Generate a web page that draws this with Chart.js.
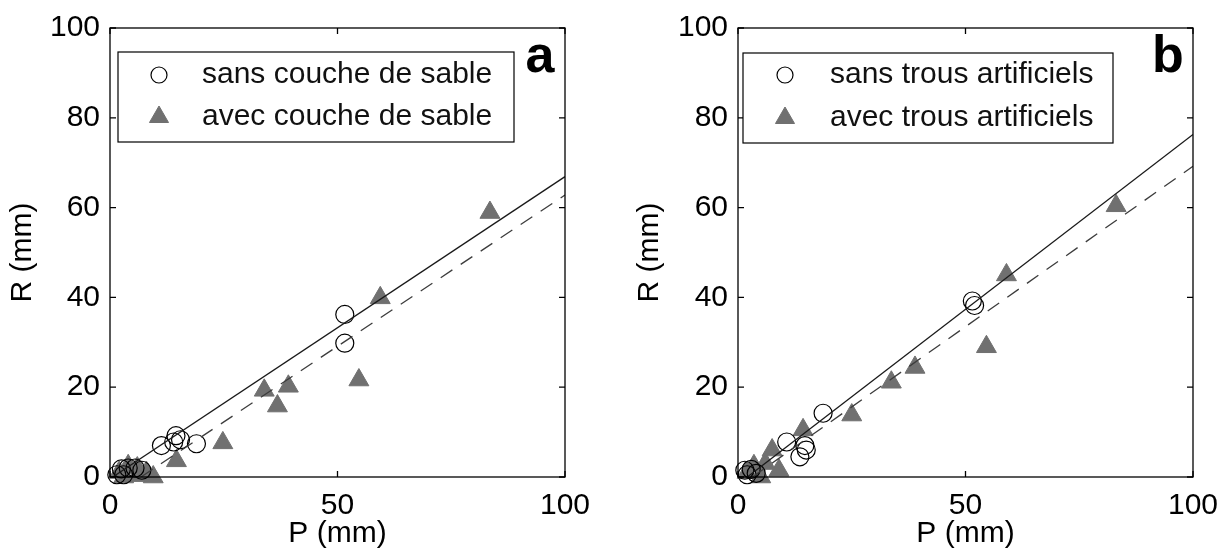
<!DOCTYPE html>
<html>
<head>
<meta charset="utf-8">
<script src="https://cdn.jsdelivr.net/npm/chart.js@4.4.1/dist/chart.umd.min.js"></script>
<style>
body{margin:0;background:#fff;}
.panel{position:absolute;top:0;}
</style>
</head>
<body>
<div class="panel" style="left:0"><canvas id="chartA" width="615" height="557"></canvas></div>
<div class="panel" style="left:615px"><canvas id="chartB" width="616" height="557"></canvas></div>
<script>
var xTicks=[0,50,100];
var yTicks=[0,20,40,60,80,100];
var xTitle="P (mm)";
var yTitle="R (mm)";

// panel a : sand layer
var labelsA=["sans couche de sable","avec couche de sable"];
var sansA=[{x:1.5,y:0.5},{x:2.5,y:1.8},{x:3,y:0.5},{x:4,y:2},{x:5.5,y:2},{x:7,y:1.5},
  {x:11.3,y:7},{x:14.5,y:9.2},{x:14,y:7.8},{x:15.5,y:8.3},{x:19,y:7.4},
  {x:51.6,y:36.2},{x:51.6,y:29.8}];
var avecA=[{x:2,y:1},{x:3,y:0},{x:4,y:2.5},{x:6,y:2},{x:6,y:0.3},{x:8,y:1},{x:9.5,y:0},
  {x:14.6,y:3.6},{x:24.8,y:7.6},{x:33.9,y:19.3},{x:39.2,y:20.2},{x:36.8,y:15.8},
  {x:54.7,y:21.6},{x:59.4,y:39.9},{x:83.5,y:58.9}];
var fitA=[{x:0.6,y:0},{x:100,y:66.9}];
var fitDashA=[{x:6.8,y:0},{x:100,y:62.8}];

// panel b : artificial holes
var labelsB=["sans trous artificiels","avec trous artificiels"];
var sansB=[{x:1.5,y:1.5},{x:2.9,y:1.7},{x:4,y:0.8},{x:2,y:0.5},
  {x:10.7,y:7.8},{x:14.7,y:7},{x:13.6,y:4.5},{x:15,y:6},{x:18.7,y:14.2},
  {x:51.5,y:39.2},{x:52,y:38.2}];
var avecB=[{x:2,y:1},{x:3.5,y:2.5},{x:5,y:0},{x:6,y:3},{x:7.5,y:6},{x:9,y:1.5},
  {x:14.3,y:10.5},{x:25,y:13.8},{x:33.7,y:21.1},{x:38.9,y:24.4},{x:54.6,y:29},
  {x:59,y:45},{x:83.1,y:60.4}];
var fitB=[{x:2.05,y:0},{x:100,y:76.3}];
var fitDashB=[{x:3.15,y:0},{x:100,y:69.2}];

var FONT='"Liberation Sans", Arial, Helvetica, sans-serif';

// frame with inward ticks, boxed legend and panel letter
var decor={
  id:'decor',
  afterDraw:function(chart,args,opts){
    var ctx=chart.ctx, a=chart.chartArea, xs=chart.scales.x, ys=chart.scales.y;
    ctx.save();
    ctx.strokeStyle='#000';
    ctx.lineWidth=1.3;
    ctx.strokeRect(a.left,a.top,a.right-a.left,a.bottom-a.top);
    ctx.beginPath();
    xs.ticks.forEach(function(t){
      var px=xs.getPixelForValue(t.value);
      ctx.moveTo(px,a.bottom);ctx.lineTo(px,a.bottom-6);
      ctx.moveTo(px,a.top);ctx.lineTo(px,a.top+6);
    });
    ys.ticks.forEach(function(t){
      var py=ys.getPixelForValue(t.value);
      ctx.moveTo(a.left,py);ctx.lineTo(a.left+6,py);
      ctx.moveTo(a.right,py);ctx.lineTo(a.right-6,py);
    });
    ctx.stroke();

    var b=opts.box;
    ctx.fillStyle='#fff';
    ctx.fillRect(b.left,b.top,b.width,b.height);
    ctx.lineWidth=1.2;
    ctx.strokeRect(b.left,b.top,b.width,b.height);
    var items=chart.data.datasets.filter(function(d){return d.label;});
    items.forEach(function(d,i){
      var y=b.top+opts.rowTop+i*opts.rowGap;
      ctx.fillStyle=d.backgroundColor;
      ctx.strokeStyle=d.borderColor;
      ctx.lineWidth=d.borderWidth;
      Chart.helpers.drawPoint(ctx,{pointStyle:d.pointStyle,radius:opts.markerSize[i],borderWidth:d.borderWidth,rotation:0},b.left+opts.markerX,y);
      ctx.fillStyle='#111';
      ctx.font='30px '+FONT;
      ctx.textAlign='left';
      ctx.textBaseline='middle';
      ctx.fillText(d.label,b.left+opts.textX,y);
    });

    ctx.fillStyle='#000';
    ctx.font='bold 52px '+FONT;
    ctx.textAlign='center';
    ctx.textBaseline='alphabetic';
    ctx.fillText(opts.letter,opts.letterX,opts.letterY);
    ctx.restore();
  }
};

function makeChart(id,labels,sans,avec,fit,fitDash,pad,yWidth,decorOpts){
  var ctx=document.getElementById(id);
  return new Chart(ctx,{
    type:'scatter',
    data:{
      datasets:[
        {data:fit,showLine:true,pointRadius:0,borderColor:'#1a1a1a',borderWidth:1.3,fill:false},
        {data:fitDash,showLine:true,pointRadius:0,borderColor:'#3c3c3c',borderWidth:1.3,borderDash:[14,10],fill:false},
        {label:labels[0],data:sans,pointStyle:'circle',pointRadius:9,borderWidth:1.2,clip:false,
          borderColor:'#000',backgroundColor:'rgba(0,0,0,0)'},
        {label:labels[1],data:avec,pointStyle:'triangle',pointRadius:11.5,borderWidth:1,clip:false,
          borderColor:'#707070',backgroundColor:'#707070'}
      ]
    },
    options:{
      responsive:false,
      animation:false,
      devicePixelRatio:1,
      events:[],
      layout:{padding:pad},
      plugins:{legend:{display:false},tooltip:{enabled:false},decor:decorOpts},
      scales:{
        x:{
          type:'linear',min:0,max:100,
          afterBuildTicks:function(s){s.ticks=xTicks.map(function(v){return {value:v};});},
          afterFit:function(s){s.height=80;},
          grid:{display:false,drawTicks:false},
          border:{display:false},
          ticks:{color:'#000',padding:11,font:{family:FONT,size:30},maxRotation:0},
          title:{display:true,text:xTitle,color:'#000',font:{family:FONT,size:30},padding:{top:0,bottom:5}}
        },
        y:{
          type:'linear',min:0,max:100,
          afterBuildTicks:function(s){s.ticks=yTicks.map(function(v){return {value:v};});},
          afterFit:function(s){s.width=yWidth;},
          grid:{display:false,drawTicks:false},
          border:{display:false},
          ticks:{color:'#000',padding:10,font:{family:FONT,size:30}},
          title:{display:true,text:yTitle,color:'#000',font:{family:FONT,size:30},padding:{top:5,bottom:0}}
        }
      }
    },
    plugins:[decor]
  });
}

makeChart('chartA',labelsA,sansA,avecA,fitA,fitDashA,{top:23,right:50,bottom:0,left:0},110,
  {box:{left:118,top:52,width:396,height:90},rowTop:23,rowGap:42,markerX:41,textX:84,markerSize:[8,11],
   letter:'a',letterX:540,letterY:72});
makeChart('chartB',labelsB,sansB,avecB,fitB,fitDashB,{top:23,right:38,bottom:0,left:12},111,
  {box:{left:128,top:53,width:370,height:90},rowTop:22,rowGap:43,markerX:42,textX:87,markerSize:[8,11],
   letter:'b',letterX:553,letterY:72});
</script>
</body>
</html>
